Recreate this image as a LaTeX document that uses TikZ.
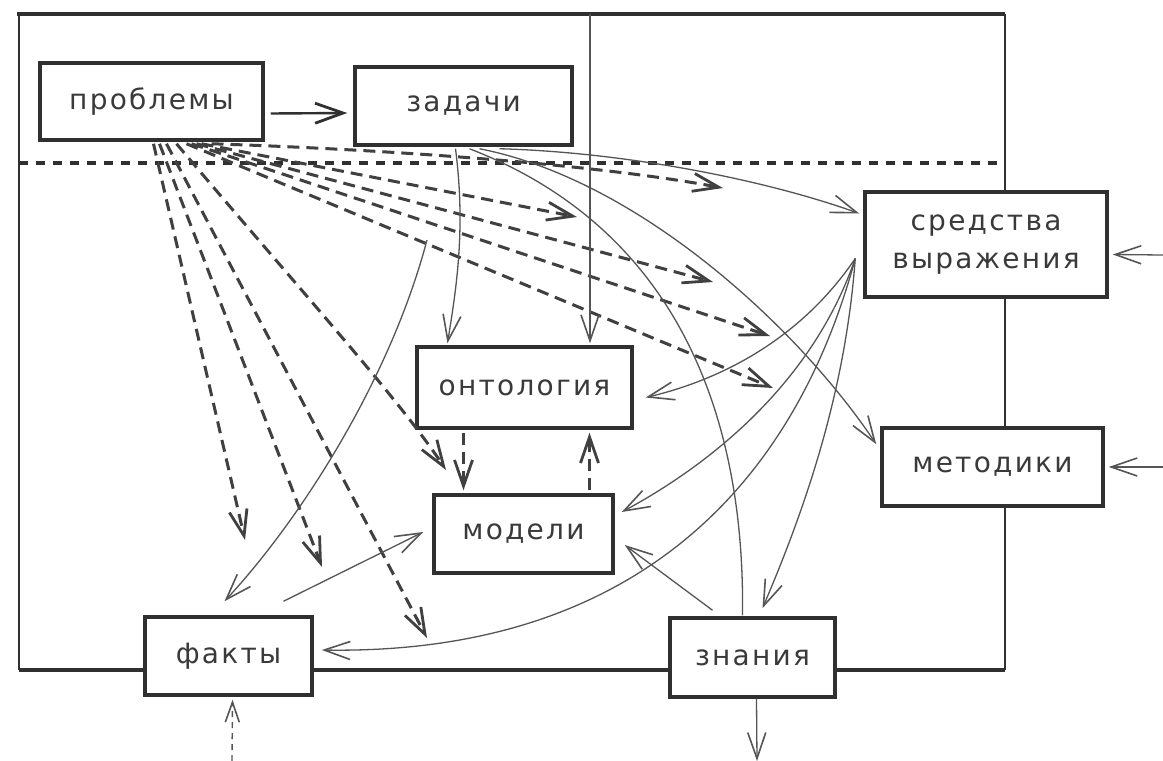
\documentclass[tikz,border=0pt]{standalone}
\usepackage{fontspec}
\newfontfamily\lblfont{DejaVu Sans}[LetterSpace=8]
\usetikzlibrary{arrows.meta,calc}
\definecolor{boxc}{HTML}{303030}
\definecolor{linec}{HTML}{555555}
\definecolor{dashc}{HTML}{404040}
\definecolor{txtc}{HTML}{3A3A3A}
\begin{document}
\begin{tikzpicture}[x=1pt,y=-1pt,
  box/.style={draw=boxc, line width=3.5pt, fill=white, inner sep=0pt, text=txtc,
    font=\lblfont\fontsize{28}{38}\selectfont, align=center},
  thinline/.style={draw=linec, line width=1.3pt},
  arr/.style={thinline, -{Straight Barb[length=26pt,width=18pt,line width=1.6pt]}},
  bigarr/.style={draw=boxc, line width=2.4pt, -{Straight Barb[length=28pt,width=20pt,line width=2.8pt]}},
  dsh/.style={draw=dashc, line width=3pt, dash pattern=on 12pt off 7pt,
    -{Straight Barb[length=26pt,width=18pt,line width=2.8pt]}},
  thindsh/.style={draw=linec, line width=1.4pt, dash pattern=on 6pt off 5pt,
    -{Straight Barb[length=20pt,width=14pt,line width=1.6pt]}},
  frame/.style={draw=boxc, line width=2pt},
  divider/.style={draw=boxc, line width=4pt, dash pattern=on 9pt off 8pt}
]
\useasboundingbox (0,0) rectangle (1163,761);
\fill[white] (0,0) rectangle (1163,761);

% frame
\draw[frame, line width=4.5pt] (17,14) -- (1005,14);
\draw[frame] (19,14) -- (19,670);
\draw[frame, line width=3.5pt] (19,670) -- (1005,670);
\draw[frame] (1005,14) -- (1005,670);
\draw[divider] (19,163) -- (1005,163);

% free ends
\coordinate (topmid) at (590,14);
\coordinate (ta) at (577,217);
\coordinate (tb) at (723,188);
\coordinate (tc) at (713,282);
\coordinate (td) at (770,336);
\coordinate (te) at (773,388);
\coordinate (tf) at (446,470);
\coordinate (tg) at (427,638);
\coordinate (th) at (322,567);
\coordinate (ti) at (245,540);
\coordinate (fstart) at (427,240);
\coordinate (inS) at (1163,255);
\coordinate (inM) at (1163,467);
\coordinate (inF) at (232,761);
\coordinate (outK) at (757,761);

% boxes
\node[box, minimum width=223pt, minimum height=77pt] (p) at (151.5,101.5) {проблемы};
\node[box, minimum width=217pt, minimum height=78pt] (z) at (463.5,106) {задачи};
\node[box, minimum width=242pt, minimum height=105pt] (s) at (986,244.5) {средства\\выражения};
\node[box, minimum width=215pt, minimum height=81pt] (o) at (524.5,387.5) {онтология};
\node[box, minimum width=221pt, minimum height=78pt] (m) at (992.5,467) {методики};
\node[box, minimum width=179pt, minimum height=78pt] (d) at (523.5,534) {модели};
\node[box, minimum width=167pt, minimum height=78pt] (f) at (228.5,656) {факты};
\node[box, minimum width=165pt, minimum height=79pt] (k) at (752.5,657.5) {знания};

% проблемы -> задачи
\draw[bigarr] ($(p.east)+(6,12)$) -- ($(z.west)+(-6,7)$);

% dashed fan from проблемы
\draw[dsh] ($(p.south)+(60,2)$) .. controls (400,150) and (600,165) .. (tb);
\draw[dsh] ($(p.south)+(50,2)$) -- (ta);
\draw[dsh] ($(p.south)+(45,2)$) -- (tc);
\draw[dsh] ($(p.south)+(40,2)$) -- (td);
\draw[dsh] ($(p.south)+(35,2)$) -- (te);
\draw[dsh] ($(p.south)+(25,2)$) .. controls (300,290) and (400,400) .. (tf);
\draw[dsh] ($(p.south)+(15,2)$) -- (tg);
\draw[dsh] ($(p.south)+(8,2)$) -- (th);
\draw[dsh] ($(p.south)+(2,2)$) -- (ti);

% from задачи
\draw[arr] ($(z.south)+(-8,2)$) .. controls (466,230) and (456,290) .. ($(o.north)+(-77,-2)$);
\draw[arr] ($(z.south)+(36,2)$) .. controls (620,152) and (760,178) .. ($(s.west)+(-4,-31)$);
\draw[arr] ($(z.south)+(16,2)$) .. controls (640,180) and (800,330) .. ($(m.north west)+(-4,18)$);
\draw[thinline] ($(z.south)+(6,2)$) .. controls (680,230) and (745,420) .. ($(k.north)+(-10,-1)$);

% vertical divider arrow into онтология
\draw[arr] (topmid) -- ($(o.north -| topmid)+(0,-2)$);

% from средства выражения
\draw[arr] ($(s.west)+(-8,14)$) .. controls (800,340) and (720,380) .. ($(o.east)+(12,10)$);
\draw[arr] ($(s.west)+(-8,14)$) .. controls (810,390) and (700,470) .. ($(d.east)+(7,-22)$);
\draw[arr] ($(s.west)+(-8,14)$) .. controls (845,400) and (800,520) .. ($(k.north)+(10,-8)$);
\draw[arr] ($(s.west)+(-8,14)$) .. controls (790,500) and (620,655) .. ($(f.east)+(8,-6)$);

% знания -> модели
\draw[arr] ($(k.north)+(-40,-6)$) -- ($(d.east)+(10,11)$);

% to / from факты
\draw[arr] (fstart) .. controls (390,380) and (300,520) .. ($(f.north)+(-4,-14)$);
\draw[arr] ($(f.north)+(55,-14)$) -- ($(d.west)+(-9,-2)$);

% онтология <-> модели
\draw[dsh] ($(o.south)+(-61,3)$) -- ($(d.north)+(-60,-3)$);
\draw[dsh] ($(d.north)+(66,-3)$) -- ($(o.south)+(65,3)$);

% outside connections
\draw[arr] (inS) -- ($(s.east)+(4,10)$);
\draw[arr] (inM) -- ($(m.east)+(4,0)$);
\draw[thindsh] (inF) -- ($(f.south)+(4,3)$);
\draw[arr] ($(k.south)+(4,0)$) -- (outK);
\end{tikzpicture}
\end{document}
